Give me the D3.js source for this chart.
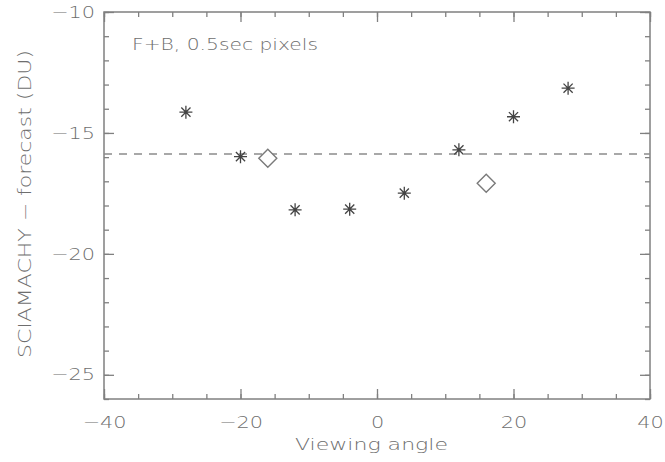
<!DOCTYPE html>
<html>
<head>
<meta charset="utf-8">
<script src="https://cdn.jsdelivr.net/npm/d3@7"></script>
<style>
  body { margin: 0; background: #fff; }
  svg { display: block; }
  text { font-family: "DejaVu Sans", sans-serif; font-weight: 200; fill: #6e6e6e; }
</style>
</head>
<body>
<svg id="chart" width="665" height="462"></svg>
<script>
// Data
const asteriskAngles = [-28, -20, -12, -4, 4, 12, 20, 28];
const asteriskValues = [-14.14, -15.98, -18.18, -18.15, -17.49, -15.70, -14.33, -13.15];
const diamondAngles = [-16, 16];
const diamondValues = [-16.05, -17.08];
const meanLine = -15.87;
const xMajorTicks = [-40, -20, 0, 20, 40];
const xMinorTicks = d3.range(-40, 41, 5);
const yMajorTicks = [-25, -20, -15, -10];
const yMinorTicks = d3.range(-26, -9, 1);
const titleText = "F+B, 0.5sec pixels";
const xLabel = "Viewing angle";
const yLabel = "SCIAMACHY \u2212 forecast (DU)";

const svg = d3.select("#chart");
const L = 104, R = 650, T = 12, B = 399;
const x = d3.scaleLinear().domain([-40, 40]).range([L, R]);
const y = d3.scaleLinear().domain([-26, -10]).range([B, T]);
const axisColor = "#808080";
const fs = 16;

function stretch(sel, k) {
  sel.each(function () {
    const w = this.getComputedTextLength();
    d3.select(this).attr("textLength", w * k).attr("lengthAdjust", "spacingAndGlyphs");
  });
}
function stretchTo(sel, target) {
  sel.attr("textLength", target).attr("lengthAdjust", "spacingAndGlyphs");
}

function styleAxis(g) {
  g.select(".domain").remove();
  g.selectAll(".tick line").attr("stroke", axisColor).attr("stroke-width", 1.3);
  g.selectAll(".tick text").style("font-size", fs + "px").attr("fill", "#6e6e6e")
    .style("font-family", '"DejaVu Sans", sans-serif').style("font-weight", 200);
}

// bottom
svg.append("g").attr("transform", `translate(0,${B})`)
  .call(d3.axisBottom(x).tickValues(xMinorTicks).tickSize(-5).tickFormat("")).call(styleAxis);
svg.append("g").attr("class", "lab").attr("transform", `translate(0,${B})`)
  .call(d3.axisBottom(x).tickValues(xMajorTicks).tickSize(-10).tickPadding(18).tickFormat(d3.format("d"))).call(styleAxis);
// top
svg.append("g").attr("transform", `translate(0,${T})`)
  .call(d3.axisTop(x).tickValues(xMinorTicks).tickSize(-5).tickFormat("")).call(styleAxis);
svg.append("g").attr("transform", `translate(0,${T})`)
  .call(d3.axisTop(x).tickValues(xMajorTicks).tickSize(-10).tickFormat("")).call(styleAxis);
// left
svg.append("g").attr("transform", `translate(${L},0)`)
  .call(d3.axisLeft(y).tickValues(yMinorTicks).tickSize(-5).tickFormat("")).call(styleAxis);
svg.append("g").attr("class", "lab").attr("transform", `translate(${L},0)`)
  .call(d3.axisLeft(y).tickValues(yMajorTicks).tickSize(-10).tickPadding(9).tickFormat(d3.format("d"))).call(styleAxis);
// right
svg.append("g").attr("transform", `translate(${R},0)`)
  .call(d3.axisRight(y).tickValues(yMinorTicks).tickSize(-5).tickFormat("")).call(styleAxis);
svg.append("g").attr("transform", `translate(${R},0)`)
  .call(d3.axisRight(y).tickValues(yMajorTicks).tickSize(-10).tickFormat("")).call(styleAxis);

stretch(svg.selectAll("g.lab .tick text"), 1.3);

// frame
svg.append("rect").attr("x", L).attr("y", T).attr("width", R - L).attr("height", B - T)
  .attr("fill", "none").attr("stroke", axisColor).attr("stroke-width", 1.5);

// dashed mean line
svg.append("line").attr("x1", L).attr("x2", R).attr("y1", y(meanLine)).attr("y2", y(meanLine))
  .attr("stroke", "#8c8c8c").attr("stroke-width", 1.6).attr("stroke-dasharray", "8,7");

// asterisks
const r = 6.5;
const star = d3.range(4).map(i => {
  const a = i * Math.PI / 4;
  const dx = r * Math.cos(a), dy = r * Math.sin(a);
  return `M${-dx},${-dy}L${dx},${dy}`;
}).join("");
svg.append("g").selectAll("path").data(asteriskAngles.map((a, i) => [a, asteriskValues[i]]))
  .join("path")
  .attr("transform", d => `translate(${x(d[0])},${y(d[1])})`)
  .attr("d", star).attr("stroke", "#444").attr("stroke-width", 1.3).attr("fill", "none");

// diamonds
const dr = 9;
svg.append("g").selectAll("path").data(diamondAngles.map((a, i) => [a, diamondValues[i]]))
  .join("path")
  .attr("transform", d => `translate(${x(d[0])},${y(d[1])})`)
  .attr("d", `M0,${-dr}L${dr},0L0,${dr}L${-dr},0Z`)
  .attr("stroke", "#7a7a7a").attr("stroke-width", 1.4).attr("fill", "#fff");

// title
svg.append("text").attr("x", 132).attr("y", 50).style("font-size", "15px").text(titleText)
  .call(stretchTo, 186);
// x label
svg.append("text").attr("x", 371.5).attr("y", 450).attr("text-anchor", "middle")
  .style("font-size", fs + "px").text(xLabel).call(stretchTo, 153);
// y label
svg.append("text").attr("transform", `translate(31,204) rotate(-90)`)
  .attr("text-anchor", "middle").style("font-size", "17px").text(yLabel).call(stretchTo, 308);
</script>
</body>
</html>
